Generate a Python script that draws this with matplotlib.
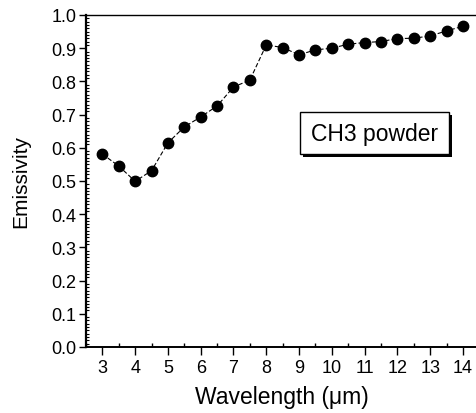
import numpy as np
import matplotlib
matplotlib.use("Agg")
import matplotlib.pyplot as plt
from matplotlib.ticker import MultipleLocator

# emissivity of CH3 powder vs wavelength
wavelength = [3.0, 3.5, 4.0, 4.5, 5.0, 5.5, 6.0, 6.5, 7.0, 7.5, 8.0, 8.5,
              9.0, 9.5, 10.0, 10.5, 11.0, 11.5, 12.0, 12.5, 13.0, 13.5, 14.0]
emissivity = [0.581, 0.545, 0.499, 0.531, 0.615, 0.663, 0.693, 0.726,
              0.783, 0.804, 0.910, 0.902, 0.880, 0.895, 0.900, 0.912,
              0.917, 0.920, 0.929, 0.930, 0.937, 0.952, 0.966]
x_ticks = list(range(3, 15))
y_ticks = [0.0, 0.1, 0.2, 0.3, 0.4, 0.5, 0.6, 0.7, 0.8, 0.9, 1.0]
label_text = "CH3 powder"

plt.rcParams["font.family"] = ["Liberation Sans", "DejaVu Sans"]

fig = plt.figure(figsize=(4.77, 4.14), dpi=100)
ax = fig.add_axes([86 / 477, 66 / 414, 391 / 477, 332 / 414])

ax.plot(wavelength, emissivity, color="black", lw=0.8,
        linestyle=(0, (4, 2)), marker="o", markersize=7.5,
        markerfacecolor="black", markeredgecolor="black")

ax.set_xlim(2.5, 14.43)
ax.set_ylim(0.0, 1.0)
ax.set_xticks(x_ticks)
ax.set_yticks(y_ticks)
ax.set_yticklabels([f"{v:.1f}" for v in y_ticks])
ax.xaxis.set_minor_locator(MultipleLocator(0.5))
ax.yaxis.set_minor_locator(MultipleLocator(0.01))

ax.tick_params(axis="x", which="major", direction="out", length=6,
               width=1.0, labelsize=13, pad=3)
ax.tick_params(axis="y", which="major", direction="out", length=5,
               width=1.0, labelsize=13, pad=2)
ax.tick_params(axis="x", which="minor", direction="in", length=3, width=1.0)
ax.tick_params(axis="y", which="minor", direction="in", length=2, width=0.8)

ax.spines["right"].set_visible(False)
ax.spines["left"].set_linewidth(1.6)
ax.spines["bottom"].set_linewidth(1.4)
ax.spines["top"].set_linewidth(1.0)

ax.set_xlabel("Wavelength (\u03bcm)", fontsize=16.5, labelpad=6)
ax.set_ylabel("Emissivity", fontsize=15, labelpad=15)

# boxed label with drop shadow
bx0, by0, bw, bh = 300, 113, 149, 42
shadow = plt.Rectangle(((bx0 + 3) / 477, 1 - (by0 + bh + 3) / 414),
                       bw / 477, bh / 414, transform=fig.transFigure,
                       facecolor="black", edgecolor="none", zorder=5)
box = plt.Rectangle((bx0 / 477, 1 - (by0 + bh) / 414), bw / 477, bh / 414,
                    transform=fig.transFigure, facecolor="white",
                    edgecolor="black", lw=1.0, zorder=6)
fig.add_artist(shadow)
fig.add_artist(box)
fig.text((bx0 + bw / 2) / 477, 1 - (by0 + bh / 2) / 414, label_text,
         ha="center", va="center", fontsize=16.5, zorder=7)

fig.savefig("out.png", dpi=100)
